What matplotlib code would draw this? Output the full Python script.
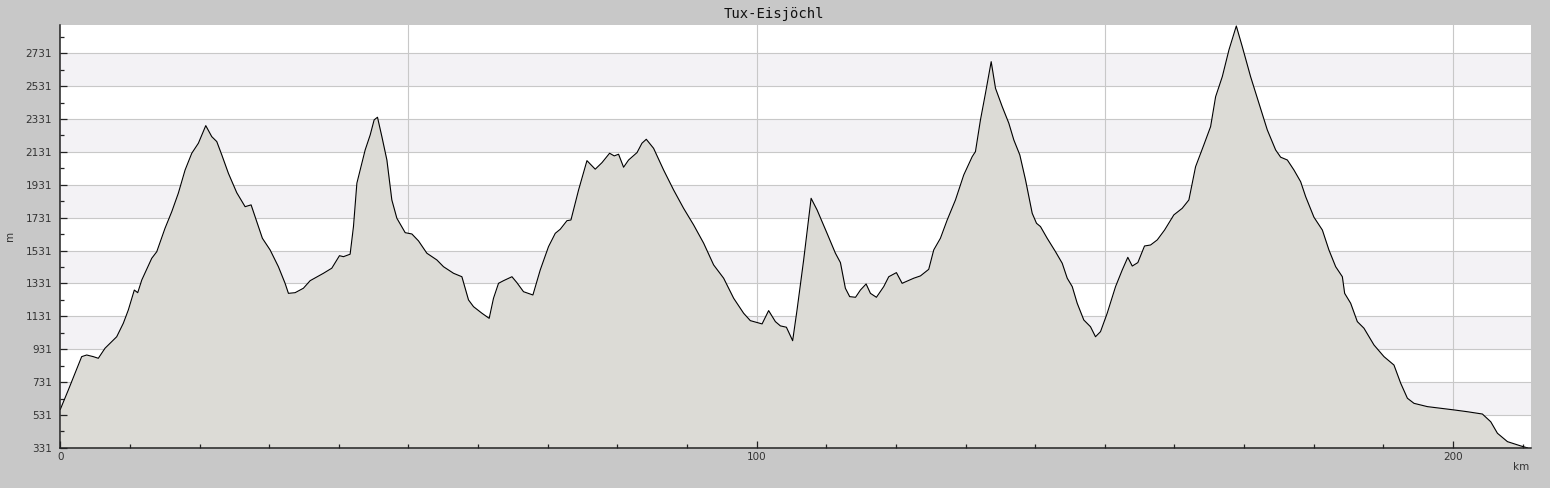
import numpy as np
import matplotlib
matplotlib.use("Agg")
import matplotlib.pyplot as plt
from matplotlib.ticker import MultipleLocator, FixedLocator

# elevation profile
dist_km = [0.0, 1.15, 2.11, 3.07, 3.79, 4.74, 5.46, 6.42, 7.39, 8.10, 9.05, 9.77,
           10.63, 11.12, 11.70, 13.13, 13.85, 15.04, 16.01, 16.95, 17.92, 18.88,
           19.83, 20.89, 21.75, 22.47, 23.19, 24.14, 25.34, 26.54, 27.40, 28.22,
           29.02, 30.13, 31.32, 32.28, 32.76, 33.72, 34.91, 35.88, 37.79, 38.99,
           40.09, 40.66, 41.62, 42.10, 42.59, 43.06, 43.78, 44.50, 45.07, 45.55,
           46.18, 46.90, 47.61, 48.33, 49.53, 50.49, 51.44, 52.64, 54.08, 55.03,
           56.47, 57.67, 58.62, 59.34, 60.55, 61.59, 62.21, 62.93, 63.65, 64.86,
           65.57, 66.52, 67.87, 68.92, 70.11, 71.08, 71.80, 72.76, 73.33, 74.43,
           75.63, 76.82, 77.79, 78.88, 79.55, 80.17, 80.89, 81.61, 82.82, 83.53,
           84.15, 85.20, 86.64, 88.07, 89.51, 90.95, 92.39, 93.82, 95.26, 96.70,
           98.13, 99.09, 100.78, 101.72, 102.69, 103.41, 104.27, 105.17, 105.80,
           106.75, 107.82, 108.68, 110.11, 111.31, 112.03, 112.74, 113.36, 114.20,
           114.90, 115.72, 116.34, 117.20, 118.25, 118.97, 120.07, 120.89, 122.56,
           123.52, 124.71, 125.43, 126.39, 127.36, 128.55, 129.74, 130.95, 131.42,
           132.14, 132.86, 133.68, 134.30, 135.26, 136.21, 136.93, 137.79, 138.61,
           139.57, 140.19, 140.76, 141.72, 142.92, 143.88, 144.60, 145.32, 146.03,
           146.98, 147.94, 148.66, 149.38, 150.34, 151.54, 152.50, 153.30, 153.94,
           154.74, 155.70, 156.57, 157.53, 158.58, 159.91, 161.11, 162.07, 163.03,
           164.22, 165.19, 165.91, 166.87, 167.82, 168.88, 169.74, 170.93, 172.13,
           173.33, 174.53, 175.25, 176.21, 177.16, 178.12, 178.84, 180.03, 181.24,
           182.18, 183.15, 184.11, 184.44, 185.30, 186.26, 187.21, 188.65, 190.09,
           191.52, 192.49, 193.45, 194.40, 196.32, 198.23, 200.14, 202.07, 204.22,
           205.42, 206.38, 207.82, 209.73, 210.70]
elev_m = [565, 683, 785, 886, 896, 886, 876, 937, 977, 1007, 1089, 1170,
          1291, 1275, 1352, 1484, 1524, 1667, 1768, 1880, 2021, 2123,
          2184, 2291, 2224, 2194, 2113, 2001, 1883, 1798, 1809, 1707,
          1606, 1535, 1433, 1332, 1271, 1275, 1302, 1348, 1393, 1424,
          1500, 1494, 1509, 1677, 1941, 2021, 2143, 2234, 2326, 2342,
          2224, 2082, 1839, 1728, 1640, 1632, 1590, 1515, 1474, 1433,
          1393, 1372, 1231, 1190, 1150, 1119, 1241, 1332, 1348, 1372,
          1336, 1281, 1261, 1413, 1555, 1636, 1661, 1713, 1717, 1900,
          2078, 2026, 2066, 2123, 2107, 2117, 2038, 2082, 2127, 2184,
          2208, 2153, 2021, 1900, 1788, 1687, 1576, 1444, 1363, 1241,
          1150, 1105, 1085, 1166, 1099, 1073, 1065, 983, 1170,
          1474, 1849, 1778, 1636, 1515, 1458, 1302, 1251, 1247,
          1291, 1328, 1271, 1247, 1312, 1372, 1397, 1332, 1363,
          1377, 1417, 1535, 1606, 1717, 1839, 1991, 2102, 2133,
          2326, 2488, 2680, 2518, 2407, 2306, 2204, 2113, 1961,
          1758, 1697, 1677, 1606, 1524, 1454, 1363, 1312, 1211,
          1109, 1068, 1007, 1038, 1150, 1312, 1413, 1490, 1437,
          1458, 1559, 1565, 1596, 1656, 1748, 1788, 1839, 2041,
          2174, 2285, 2467, 2589, 2751, 2897, 2771, 2589, 2427,
          2265, 2143, 2099, 2082, 2021, 1950, 1859, 1734, 1656,
          1535, 1433, 1372, 1271, 1211, 1099, 1059, 957, 886,
          835, 724, 633, 602, 582, 572, 562, 551, 537,
          490, 420, 369, 343, 331]

title = "Tux-Eisjöchl"
x_major = [0, 100, 200]
y_start, y_step = 331, 200

W, H = 1550, 488
fig = plt.figure(figsize=(W / 100, H / 100), dpi=100)
fig.patch.set_facecolor("#c8c8c8")
ax = fig.add_axes([60.3 / W, (H - 447.9) / H, (1531 - 60.3) / W, (447.9 - 25) / H])
ax.set_facecolor("white")

x_max = 211.2
y_min, y_max = min(elev_m), 2903
ax.set_xlim(0, x_max)
ax.set_ylim(y_min, y_max)

# alternating horizontal bands
y_ticks = np.arange(y_start, y_max, y_step)
for lo in y_ticks[1::2]:
    ax.axhspan(lo, lo + y_step, color="#f3f2f5", lw=0, zorder=0)

for y in y_ticks[1:]:
    ax.axhline(y, color="#c8c8c8", lw=0.8, zorder=0.5)
for x in [50, 100, 150, 200]:
    ax.axvline(x, color="#c8c8c8", lw=0.8, zorder=0.5)

ax.fill_between(dist_km, elev_m, y_min, color="#dcdbd6", lw=0, zorder=1)
ax.plot(dist_km, elev_m, color="black", lw=0.8, zorder=2)

for s in ["top", "right"]:
    ax.spines[s].set_visible(False)
for s in ["left", "bottom"]:
    ax.spines[s].set_color("#222222")
    ax.spines[s].set_linewidth(1.1)

ax.xaxis.set_major_locator(FixedLocator(x_major))
ax.xaxis.set_minor_locator(MultipleLocator(10))
ax.yaxis.set_major_locator(FixedLocator(y_ticks))
ax.yaxis.set_minor_locator(FixedLocator(np.arange(y_start + 100, y_max, y_step)))
ax.tick_params(axis="both", which="major", direction="in", length=5, width=0.9,
               color="#222222", labelsize=7.5, labelcolor="#333333", pad=3)
ax.tick_params(axis="both", which="minor", direction="in", length=3, width=0.9,
               color="#222222")
ax.tick_params(axis="y", which="major", pad=6)

fig.text(774 / W, 1 - 14 / H, title, ha="center", va="center",
         family="DejaVu Sans Mono", fontsize=10, color="#111111")
fig.text(10 / W, 1 - 236 / H, "m", rotation=90, ha="center", va="center",
         fontsize=7.5, color="#333333")
fig.text(1521 / W, 1 - 467 / H, "km", ha="center", va="center",
         fontsize=7.5, color="#333333")

fig.savefig("out.png", dpi=100, facecolor=fig.get_facecolor())
